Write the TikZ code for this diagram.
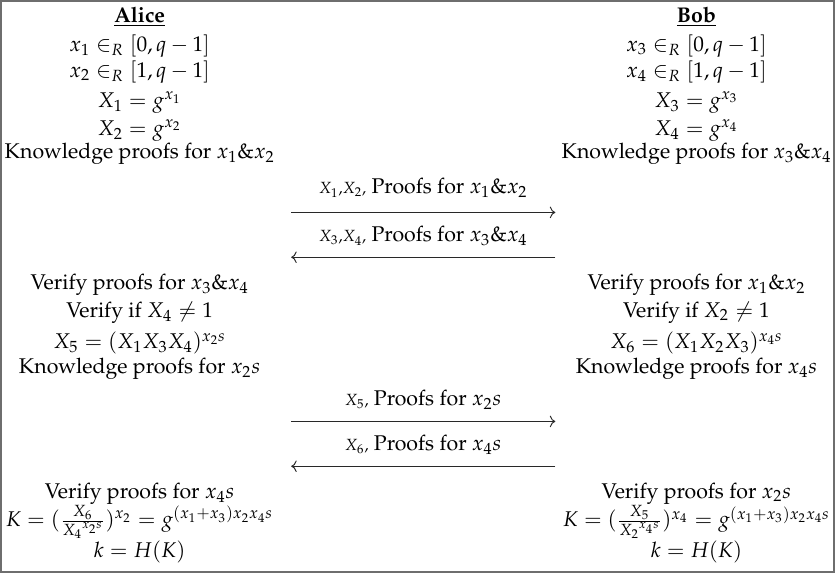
\documentclass[tikz,border=0pt]{standalone}
\usepackage[T1]{fontenc}
\usepackage{amsmath}
\usepackage{mathpazo}
\usepackage{xcolor}
\usepackage{tikz}
\usetikzlibrary{arrows.meta, positioning}
\definecolor{myframe}{RGB}{110,110,110}
\definecolor{mydark}{RGB}{40,40,40}
\newcommand{\partyname}[1]{\underline{\textbf{#1}}}
\tikzset{
  row/.style={inner sep=0pt, anchor=center},
  msglabel/.style={inner sep=0pt, anchor=center},
  msg/.style={-To, line width=0.45pt, color=mydark},
  frame/.style={draw=myframe, line width=0.9pt},
  every node/.style={font=\fontsize{10pt}{12pt}\selectfont}
}

\begin{document}
\begin{tikzpicture}
  % Frame
  \draw[frame] (0.02,0.02) rectangle (13.77,9.45);

  % Alice
  \node[row] (alice) at (2.31,9.19) {\partyname{Alice}};
  \node[row] (a1) at (2.31,8.71) {$x_1 \in_R [0,q-1]$};
  \node[row] (a2) at (2.31,8.28) {$x_2 \in_R [1,q-1]$};
  \node[row] (a3) at (2.31,7.77) {$X_1 = g^{x_1}$};
  \node[row] (a4) at (2.31,7.31) {$X_2 = g^{x_2}$};
  \node[row] (a5) at (2.31,6.93) {Knowledge proofs for $x_1\&x_2$};

  % Bob
  \node[row] (bob) at (11.50,9.19) {\partyname{Bob}};
  \node[row] (b1) at (11.50,8.71) {$x_3 \in_R [0,q-1]$};
  \node[row] (b2) at (11.50,8.28) {$x_4 \in_R [1,q-1]$};
  \node[row] (b3) at (11.50,7.77) {$X_3 = g^{x_3}$};
  \node[row] (b4) at (11.50,7.31) {$X_4 = g^{x_4}$};
  \node[row] (b5) at (11.50,6.93) {Knowledge proofs for $x_3\&x_4$};

  % First round
  \coordinate (m1l) at (4.81,5.96);
  \coordinate (m1r) at (9.17,5.96);
  \node[msglabel] (m1) at (6.99,6.36) {$\scriptstyle X_1,X_2,$ Proofs for $x_1\&x_2$};
  \draw[msg] (m1l) -- (m1r);

  \coordinate (m2l) at (4.81,5.22);
  \coordinate (m2r) at (9.17,5.22);
  \node[msglabel] (m2) at (6.99,5.57) {$\scriptstyle X_3,X_4,$ Proofs for $x_3\&x_4$};
  \draw[msg] (m2r) -- (m2l);

  % Alice, second step
  \node[row] (a6) at (2.31,4.76) {Verify proofs for $x_3\&x_4$};
  \node[row] (a7) at (2.31,4.31) {Verify if $X_4 \neq 1$};
  \node[row] (a8) at (2.31,3.80) {$X_5 = (X_1X_3X_4)^{x_2s}$};
  \node[row] (a9) at (2.31,3.38) {Knowledge proofs for $x_2s$};

  % Bob, second step
  \node[row] (b6) at (11.50,4.76) {Verify proofs for $x_1\&x_2$};
  \node[row] (b7) at (11.50,4.31) {Verify if $X_2 \neq 1$};
  \node[row] (b8) at (11.50,3.80) {$X_6 = (X_1X_2X_3)^{x_4s}$};
  \node[row] (b9) at (11.50,3.38) {Knowledge proofs for $x_4s$};

  % Second round
  \coordinate (m3l) at (4.81,2.51);
  \coordinate (m3r) at (9.17,2.51);
  \node[msglabel] (m3) at (6.99,2.87) {$\scriptstyle X_5,$ Proofs for $x_2s$};
  \draw[msg] (m3l) -- (m3r);

  \coordinate (m4l) at (4.81,1.77);
  \coordinate (m4r) at (9.17,1.77);
  \node[msglabel] (m4) at (6.99,2.12) {$\scriptstyle X_6,$ Proofs for $x_4s$};
  \draw[msg] (m4r) -- (m4l);

  % Key computation
  \node[row] (a10) at (2.31,1.32) {Verify proofs for $x_4s$};
  \node[row] (a11) at (2.31,0.85) {$K = (\frac{X_6}{{X_4}^{x_2s}})^{x_2} = g^{(x_1+x_3)x_2x_4s}$};
  \node[row] (a12) at (2.31,0.36) {$k = H(K)$};

  \node[row] (b10) at (11.50,1.32) {Verify proofs for $x_2s$};
  \node[row] (b11) at (11.50,0.85) {$K = (\frac{X_5}{{X_2}^{x_4s}})^{x_4} = g^{(x_1+x_3)x_2x_4s}$};
  \node[row] (b12) at (11.50,0.36) {$k = H(K)$};
\end{tikzpicture}
\end{document}
